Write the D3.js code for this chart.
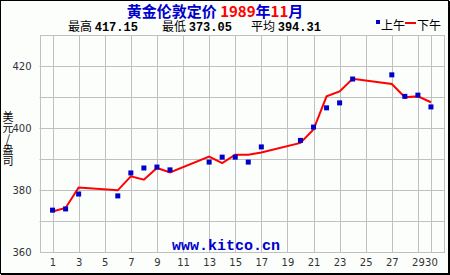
<!DOCTYPE html>
<html>
<head>
<meta charset="utf-8">
<script src="https://cdn.jsdelivr.net/npm/d3@7"></script>
<style>
body { margin: 0; background: #ffffff; }
svg { display: block; }
</style>
</head>
<body>
<div id="chart"></div>
<script>

// London gold fix, November 1989 (AM = blue squares, PM = red line)
var days= [1, 2, 3, 6, 7, 8, 9, 10, 13, 14, 15, 16, 17, 20, 21, 22, 23, 24, 27, 28, 29, 30];
var am_prices= [373.5, 373.9, 378.7, 378.1, 385.5, 387.1, 387.4, 386.5, 389.0, 390.6, 390.6, 389.0, 393.9,
	396.0, 400.3, 406.5, 408.1, 415.8, 417.15, 410.2, 410.6, 406.8];
var pm_prices= [373.05, 374.2, 380.8, 379.9, 384.4, 383.3, 387.1, 385.7, 390.8, 388.7, 391.4, 391.4, 392.1,
	395.2, 399.5, 410.2, 411.8, 415.9, 414.2, 409.9, 410.2, 408.3];
var x_ticks= [1, 3, 5, 7, 9, 11, 13, 15, 17, 19, 21, 23, 25, 27, 29, 30];
var y_grid= [370, 380, 390, 400, 410, 420];
var y_labels= [360, 380, 400, 420];

var width= 450, height= 275;
var margin= {top: 35, right: 6, bottom: 23, left: 40};

var svg= d3.select("#chart")
	.append("svg")
	.attr("width", width)
	.attr("height", height);

svg.append("rect")
	.attr("x", 0.5).attr("y", 0.5)
	.attr("width", 448).attr("height", 273)
	.attr("fill", "#fcfefc")
	.attr("stroke", "#000")
	.attr("stroke-width", 1);
svg.append("line").attr("x1", 449.5).attr("x2", 449.5).attr("y1", 1).attr("y2", 275).attr("stroke", "#000");
svg.append("line").attr("x1", 1).attr("x2", 450).attr("y1", 274.5).attr("y2", 274.5).attr("stroke", "#000");

var x= d3.scaleLinear().domain([0, 31]).range([margin.left- 0.5, width- margin.right]);
var y= d3.scaleLinear().domain([360, 430]).range([height- margin.bottom, margin.top]);

var grid= svg.append("g").attr("stroke", "#c0c0c0").attr("stroke-width", 1);

grid.selectAll(".vx")
	.data(x_ticks)
	.enter().append("line")
	.attr("x1", function(d) { return Math.round(x(d))+ 0.5; })
	.attr("x2", function(d) { return Math.round(x(d))+ 0.5; })
	.attr("y1", y(430)).attr("y2", y(360));

grid.selectAll(".hy")
	.data(y_grid)
	.enter().append("line")
	.attr("x1", x(0)).attr("x2", x(31))
	.attr("y1", function(d) { return Math.round(y(d))+ 0.5; })
	.attr("y2", function(d) { return Math.round(y(d))+ 0.5; });

grid.append("rect")
	.attr("x", Math.round(x(0))+ 0.5).attr("y", Math.round(y(430))+ 0.5)
	.attr("width", Math.round(x(31))- Math.round(x(0)))
	.attr("height", Math.round(y(360))- Math.round(y(430)))
	.attr("fill", "none");

// axes (tick marks hidden, labels only)
var x_axis= svg.append("g")
	.attr("transform", "translate(0," + (y(360)+ 4) + ")")
	.call(d3.axisBottom(x).tickValues(x_ticks).tickSize(0).tickFormat(d3.format("d")));
x_axis.select(".domain").remove();
x_axis.selectAll("text")
	.attr("font-family", "DejaVu Sans").attr("font-size", 10).attr("fill", "#333");

var y_axis= svg.append("g")
	.attr("transform", "translate(" + (x(0)- 5) + ",0)")
	.call(d3.axisLeft(y).tickValues(y_labels).tickSize(0));
y_axis.select(".domain").remove();
y_axis.selectAll("text")
	.attr("font-family", "DejaVu Sans").attr("font-size", 10).attr("fill", "#333");

// watermark
svg.append("text")
	.attr("x", 226).attr("y", 250)
	.attr("text-anchor", "middle")
	.attr("font-family", "Liberation Mono").attr("font-weight", "bold").attr("font-size", 15)
	.attr("fill", "#0000cc")
	.text("www.kitco.cn");

// PM line
var line= d3.line()
	.x(function(d, i) { return x(days[i]); })
	.y(function(d) { return y(d); });

svg.append("path")
	.datum(pm_prices)
	.attr("d", line)
	.attr("fill", "none")
	.attr("stroke", "#ff0000")
	.attr("stroke-width", 2);

// AM squares
svg.selectAll(".am")
	.data(am_prices)
	.enter().append("rect")
	.attr("x", function(d, i) { return x(days[i])- 2.5; })
	.attr("y", function(d) { return y(d)- 2.5; })
	.attr("width", 5).attr("height", 5)
	.attr("fill", "#0000cc");

// title
var title= svg.append("text")
	.attr("x", 215).attr("y", 17)
	.attr("text-anchor", "middle")
	.attr("font-family", "Noto Sans CJK SC").attr("font-weight", "bold").attr("font-size", 15);
title.append("tspan").attr("fill", "#0000cc").text("黄金伦敦定价 ");
title.append("tspan").attr("fill", "#ff0000").text("1989");
title.append("tspan").attr("fill", "#0000cc").text("年");
title.append("tspan").attr("fill", "#ff0000").text("11");
title.append("tspan").attr("fill", "#0000cc").text("月");

// stats
var stats= [["最高", "417.15", 68], ["最低", "373.05", 162], ["平均", "394.31", 251]];
stats.forEach(function(s) {
	var t= svg.append("text").attr("x", s[2]).attr("y", 31).attr("font-size", 12).attr("fill", "#000");
	t.append("tspan").attr("font-family", "Noto Sans CJK SC").text(s[0] + " ");
	t.append("tspan").attr("font-family", "Liberation Mono").attr("font-weight", "bold").text(s[1]);
});

// legend
svg.append("rect").attr("x", 376).attr("y", 20).attr("width", 4).attr("height", 4).attr("fill", "#0000cc");
svg.append("text").attr("x", 381).attr("y", 30).attr("font-family", "Noto Sans CJK SC").attr("font-size", 12).text("上午");
svg.append("rect").attr("x", 405).attr("y", 22).attr("width", 11).attr("height", 2).attr("fill", "#ff0000");
svg.append("text").attr("x", 417).attr("y", 30).attr("font-family", "Noto Sans CJK SC").attr("font-size", 12).text("下午");

// y axis unit, written top to bottom
svg.append("text")
	.attr("x", 8).attr("y", 111)
	.style("writing-mode", "vertical-rl")
	.style("text-orientation", "upright")
	.attr("font-family", "Noto Sans CJK SC").attr("font-size", 11)
	.text("美元/盎司");

</script>
</body>
</html>
